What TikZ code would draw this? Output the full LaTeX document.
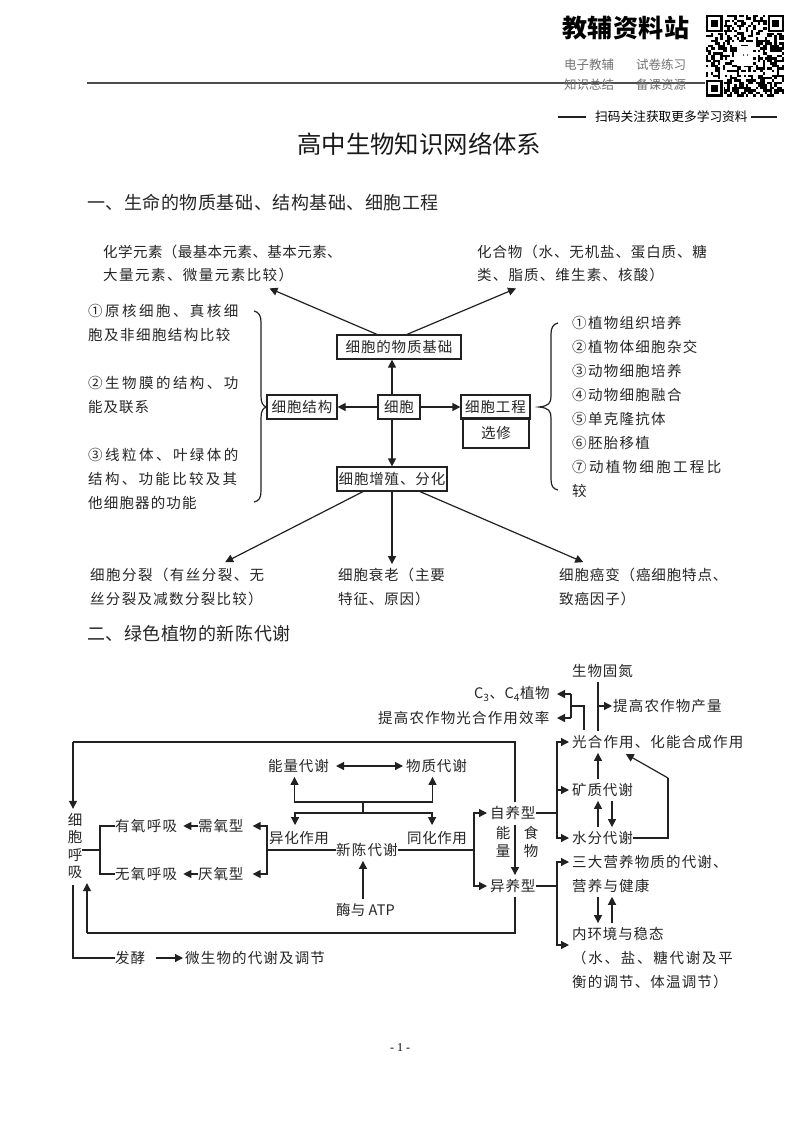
\documentclass[tikz,border=0pt]{standalone}
\usepackage{fontspec}
\setmainfont{Noto Sans CJK SC}
\newfontfamily\pagefont{Liberation Serif}
\usetikzlibrary{arrows.meta}
\definecolor{ink}{gray}{0.15}
\definecolor{rule}{gray}{0.13}
\newcommand{\bodyfont}{\fontsize{14.5}{23.6}\selectfont}
\newcommand{\track}[1]{\addfontfeature{LetterSpace=#1}}

\begin{document}
\begin{tikzpicture}[x=1pt, y=-1pt,
  txt/.style={anchor=west, inner xsep=0pt, inner ysep=4pt, font=\bodyfont, text=ink, align=left},
  upright/.style={txt, anchor=center, align=center, font=\fontsize{14.5}{17.5}\selectfont},
  boxed/.style={draw=rule, line width=1.2pt, inner sep=0pt, font=\bodyfont\track{6}, text=ink, minimum height=24pt},
  head/.style={anchor=west, inner sep=0pt, font=\fontsize{18}{20}\selectfont\track{3}, text=ink},
  small/.style={anchor=west, inner sep=0pt, font=\fontsize{12.5}{14}\selectfont, text=black!55},
  line/.style={draw=rule, line width=1.2pt},
  arrow/.style={line, ->, >={Triangle[length=8pt,width=8pt]}},
  twoway/.style={line, <->, >={Triangle[length=8pt,width=8pt]}}
]
\useasboundingbox (0,0) rectangle (800,1131);
\fill[white] (0,0) rectangle (800,1131);

% page header
\draw[line, draw=black!70] (87,83) -- (707,83);
\node (brand) [anchor=west, inner sep=0pt, font=\fontsize{25}{28}\selectfont\bfseries\track{2}] at (562,28) {教辅资料站};
\node (tutor) [small] at (564,65) {电子教辅};
\node (paper) [small] at (636,65) {试卷练习};
\node (notes) [small] at (564,85) {知识总结};
\node (lesson) [small] at (636,85) {备课资源};
\node (scan) [anchor=west, inner sep=0pt, font=\fontsize{12.7}{14}\selectfont] at (595,117) {扫码关注获取更多学习资料};
\coordinate (scanL) at (558,117);
\coordinate (scanR) at (777,117);
\draw[line] (scanL) -- ([xshift=-9pt]scan.west);
\draw[line] ([xshift=3pt]scan.east) -- (scanR);

% code square, modules then finder marks
\pgfmathsetseed{4711}
\foreach \i in {0,...,32} {
  \foreach \j in {0,...,32} {
    \pgfmathparse{rnd<0.52 ? 1 : 0}
    \ifnum\pgfmathresult=1
      \fill[black] (706+\i*2.36,15+\j*2.48) rectangle +(2.36,2.48);
    \fi
  }
}
\fill[white] (737,46) rectangle (753,66);
\fill[green!60!black] (743,54) rectangle +(1.2,2);
\fill[green!60!black] (747,54) rectangle +(1.2,2);
\foreach \fx/\fy in {706/15,767.5/15,706/79.6} {
  \fill[white] (\fx-1,\fy-1) rectangle +(18.5,19.4);
  \fill[black] (\fx,\fy) rectangle +(16.5,17.4);
  \fill[white] (\fx+2.4,\fy+2.5) rectangle +(11.8,12.4);
  \fill[black] (\fx+4.7,\fy+5) rectangle +(7.1,7.4);
}

\node (title) [anchor=west, inner sep=0pt, font=\fontsize{24.4}{28}\selectfont, text=black!90] at (297,144) {高中生物知识网络体系};
\node (secone) [head] at (87,203) {一、生命的物质基础、结构基础、细胞工程};
\node (sectwo) [head] at (87,634) {二、绿色植物的新陈代谢};

% first part
\node (basis) [boxed, minimum width=124pt, minimum height=24pt] at (399,347) {细胞的物质基础};
\node (struct) [boxed, minimum width=70pt] at (302,407) {细胞结构};
\node (cell) [boxed, minimum width=42pt] at (399,407) {细胞};
\node (engin) [boxed, minimum width=69pt] at (495.5,407) {细胞工程};
\node (elective) [boxed, minimum width=66pt, minimum height=30pt] at (496,433) {选修};
\node (prolif) [boxed, minimum width=110pt] at (392,479) {细胞增殖、分化};

\node (chem) [txt] at (103,263.5) {\track{3}化学元素（最基本元素、基本元素、\\\track{10}大量元素、微量元素比较）};
\node (comp) [txt] at (477,263.5) {\track{6}化合物（水、无机盐、蛋白质、糖\\\track{8}类、脂质、维生素、核酸）};
\node (scopeA) [txt] at (88,323) {\track{17}①原核细胞、真核细\\\track{10}胞及非细胞结构比较};
\node (scopeB) [txt] at (88,395) {\track{17}②生物膜的结构、功\\\track{7}能及联系};
\node (scopeC) [txt] at (88,479) {\track{17}③线粒体、叶绿体的\\\track{16}结构、功能比较及其\\\track{8}他细胞器的功能};
\node (techs) [txt, font=\fontsize{14.5}{24}\selectfont\track{9}] at (572,407) {①植物组织培养\\②植物体细胞杂交\\③动物细胞培养\\④动物细胞融合\\⑤单克隆抗体\\⑥胚胎移植\\\track{16}⑦动植物细胞工程比\\较};
\node (divide) [txt] at (90,587) {\track{10}细胞分裂（有丝分裂、无\\\track{9}丝分裂及减数分裂比较）};
\node (aging) [txt, font=\bodyfont\track{6}] at (338,587) {细胞衰老（主要\\特征、原因）};
\node (cancer) [txt, font=\bodyfont\track{6}] at (559,587) {细胞癌变（癌细胞特点、\\致癌因子）};

\coordinate (spine) at (392,430);
\draw [arrow] (spine |- cell.north) -- (spine |- basis.south);
\draw [arrow] (spine |- cell.south) -- (spine |- prolif.north);
\draw [arrow] (cell.west) -- (struct.east);
\draw [arrow] (cell.east) -- (engin.west);
\draw [arrow] ([xshift=-22pt]basis.north) -- ([shift={(47,2)}]chem.south);
\draw [arrow] ([xshift=8pt]basis.north) -- ([shift={(-76,2)}]comp.south);
\draw [arrow] ([xshift=-29pt]prolif.south) -- ([shift={(48,-2)}]divide.north);
\draw [arrow] (spine |- prolif.south) -- (spine |- aging.north);
\draw [arrow] ([xshift=28pt]prolif.south) -- ([shift={(-60,-2)}]cancer.north);

% braces
\draw[line] (254,311) .. controls (259,312) and (261,316) .. (261,322) -- (261,396)
  .. controls (261,403) and (263,406) .. (struct.west)
  .. controls (263,408) and (261,411) .. (261,418) -- (261,491)
  .. controls (261,498) and (259,501) .. (254,502);
\draw[line] (558,323) .. controls (553,324) and (551,328) .. (551,334) -- (551,396)
  .. controls (551,403) and (549,406) .. (539,407)
  .. controls (549,408) and (551,411) .. (551,418) -- (551,479)
  .. controls (551,486) and (553,489) .. (558,490);

% second part, left half
\node (resp) [upright] at (75,846) {细\\胞\\呼\\吸};
\node (aero) [txt, font=\bodyfont\track{9}] at (115,826) {有氧呼吸};
\node (anaero) [txt, font=\bodyfont\track{9}] at (115,874) {无氧呼吸};
\node (needs) [txt, font=\bodyfont\track{6}] at (198,826) {需氧型};
\node (hates) [txt, font=\bodyfont\track{6}] at (198,874) {厌氧型};
\node (catab) [txt, font=\bodyfont\track{4}] at (269,838) {异化作用};
\node (anab) [txt, font=\bodyfont\track{4}] at (407,838) {同化作用};
\node (metab) [txt, font=\bodyfont\track{8}] at (336,850) {新陈代谢};
\node (energy) [txt, font=\bodyfont\track{6}] at (268,766) {能量代谢};
\node (matter) [txt, font=\bodyfont\track{6}] at (406,766) {物质代谢};
\node (enzyme) [txt, font=\bodyfont\track{1}] at (336,910) {酶与 ATP};
\node (ferment) [txt, font=\bodyfont\track{6}] at (115,958) {发酵};
\node (micro) [txt, font=\bodyfont\track{8}] at (185,958) {微生物的代谢及调节};

\coordinate (forkresp) at (100,850);
\coordinate (forkmid) at (267,850);
\coordinate (stem) at (363,808);
\coordinate (stemup) at (363,802);
\coordinate (stemdown) at (363,813);
\draw [line] (resp.east |- forkresp) -- (forkresp);
\draw [line] (aero.west) -| (forkresp) |- (anaero.west);
\draw [arrow] (needs.west) -- ([xshift=6pt]aero.east);
\draw [arrow] (hates.west) -- ([xshift=6pt]anaero.east);
\draw [line] (metab.west) -- (forkmid);
\draw [arrow] (forkmid) |- ([xshift=9pt]needs.east);
\draw [arrow] (forkmid) |- ([xshift=9pt]hates.east);
\draw [twoway] ([xshift=7pt]energy.east) -- ([xshift=-3pt]matter.west);
\draw [line] (stemup) -- (stemdown);
\draw [arrow] (stemup) -| ([xshift=-4pt]energy.south);
\draw [arrow] (stemup) -| ([xshift=-4pt]matter.south);
\draw [arrow] (stemdown) -| ([shift={(-4,-2)}]catab.north);
\draw [arrow] (stemdown) -| ([shift={(-5,-2)}]anab.north);
\draw [arrow] (enzyme.north -| stem) -- (metab.south -| stem);

% second part, right half
\node (auto) [txt, font=\bodyfont\track{6}] at (490,813) {自养型};
\node (hetero) [txt, font=\bodyfont\track{6}] at (490,886) {异养型};
\node (nrg) [upright] at (503,842) {能\\量};
\node (food) [upright] at (531,842) {食\\物};
\node (fix) [txt, font=\bodyfont\track{6}] at (572,671) {生物固氮};
\node (yield) [txt, font=\bodyfont\track{8}] at (613,706) {提高农作物产量};
\node (plants) [txt, font=\bodyfont\track{4}] at (474,694) {C\textsubscript{3}、C\textsubscript{4}植物};
\node (effic) [txt, font=\bodyfont\track{8}] at (378,718) {提高农作物光合作用效率};
\node (photo) [txt, font=\bodyfont\track{8}] at (572,742) {光合作用、化能合成作用};
\node (ore) [txt, font=\bodyfont\track{6}] at (572,790) {矿质代谢};
\node (water) [txt, font=\bodyfont\track{6}] at (572,838) {水分代谢};
\node (nutri) [txt, font=\bodyfont\track{8}] at (572,874) {三大营养物质的代谢、\\营养与健康};
\node (inner) [txt, font=\bodyfont\track{6}] at (572,934) {内环境与稳态};
\node (balance) [txt] at (572,970) {\track{12}（水、盐、糖代谢及平\\\track{8}衡的调节、体温调节）};

\coordinate (forkmeta) at (474,850);
\coordinate (forkauto) at (557,813);
\coordinate (forkhet) at (557,886);
\coordinate (forkplant) at (571,706);
\coordinate (plantup) at (571,694);
\coordinate (plantlow) at (571,718);
\coordinate (plantside) at (584,730);
\coordinate (tipside) at (557,0);
\coordinate (hookN) at (569,862);
\coordinate (hookE) at (569,945);
\coordinate (bend) at (668,778);
\coordinate (nfix) at (598,706);
\coordinate (colA) at (598,0);
\coordinate (colB) at (612,0);
\coordinate (tophub) at (73,742);
\coordinate (topright) at (515,742);
\coordinate (lowhub) at (87,933);
\coordinate (lowright) at (515,933);
\coordinate (fermentup) at (73,885);
\coordinate (feedstart) at (515,825);

\draw [line] (metab.east) -- (forkmeta);
\draw [arrow] (forkmeta) |- ([xshift=-3pt]auto.west);
\draw [arrow] (forkmeta) |- ([xshift=-3pt]hetero.west);
\draw [arrow] (feedstart) -- (feedstart |- hetero.north);
\draw [line] (topright |- auto.north) -- (topright) -- (tophub);
\draw [arrow] (tophub) -- (tophub |- resp.north);
\draw [line] (lowright |- hetero.south) -- (lowright) -- (lowhub);
\draw [arrow] (lowhub) -- (lowhub |- resp.south);
\draw [line] (fermentup) |- (ferment.west);
\draw [arrow] ([xshift=11pt]ferment.east) -- ([xshift=-2pt]micro.west);

\draw [line] (auto.east) -- (forkauto);
\draw [arrow] (forkauto) |- ([xshift=-3pt]photo.west);
\draw [arrow] (forkauto) |- ([xshift=-3pt]ore.west);
\draw [arrow] (forkauto) |- ([xshift=-3pt]water.west);
\draw [line] (hetero.east) -- (forkhet);
\draw [arrow] (forkhet) |- (hookN);
\draw [arrow] (forkhet) |- (hookE);

\draw [line] (colA |- fix.south) -- (colA |- photo.north);
\draw [arrow] (nfix) -- ([xshift=-1pt]yield.west);
\draw [line] (forkplant) -| (plantside);
\draw [line] (plantup) -- (plantlow);
\draw [arrow] (plantup) -- (tipside |- plants.east);
\draw [arrow] (plantlow) -- (tipside |- effic.east);

\draw [arrow] (colA |- ore.north) -- (colA |- photo.south);
\draw [arrow] (colA |- water.north) -- (colA |- ore.south);
\draw [arrow] (colB |- ore.south) -- (colB |- water.north);
\draw [line] (water.east) -- (bend |- water.east) -- (bend);
\draw [arrow] (bend) -- ([shift={(-32,1)}]photo.south);
\draw [arrow] (colA |- nutri.south) -- (colA |- inner.north);
\draw [arrow] (colB |- inner.north) -- (colB |- nutri.south);

\node (pageno) [inner sep=0pt, font=\pagefont\fontsize{12}{14}\selectfont] at (400,1048) {- 1 -};
\end{tikzpicture}
\end{document}
